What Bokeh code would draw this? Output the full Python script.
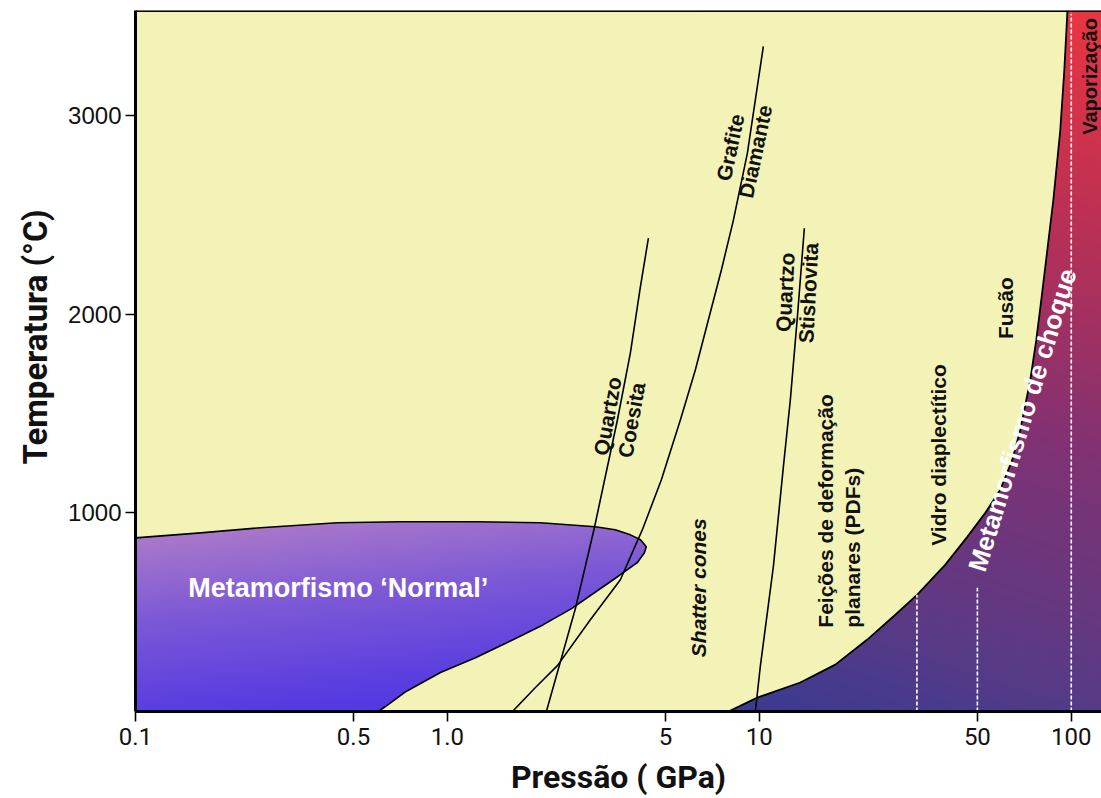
import numpy as np
from bokeh.plotting import figure
from bokeh.models import FixedTicker, Span, Range1d, Title
from bokeh.core.properties import value
from bokeh.embed import file_html
from bokeh.resources import INLINE

# ---------------- data ----------------
# Pressure (GPa) / Temperature (°C)
x_ticks = [0.1, 0.5, 1.0, 5, 10, 50, 100]
x_tick_labels = ["0.1", "0.5", "1.0", "5", "10", "50", "100"]
y_ticks = [1000, 2000, 3000]

normal_upper_p = [0.1, 0.1616, 0.2515, 0.444, 0.707, 1.23, 1.99, 2.98, 3.45, 3.86, 4.16, 4.34, 4.28, 4.06]
normal_upper_t = [874, 899, 925, 950, 955, 955, 950, 930, 915, 889, 864, 829, 799, 749]
normal_lower_p = [4.06, 3.40, 2.50, 2.03, 1.58, 1.23, 0.95, 0.737, 0.633, 0.60]
normal_lower_t = [749, 663, 518, 437, 352, 271, 196, 101, 25, 0]

shock_p = [7.96, 9.85, 13.53, 17.52, 22.19, 27.29, 32.09, 39.47, 46.42, 53.03, 59.22,
           64.70, 68.64, 73.89, 77.23, 80.13, 83.79, 87.58, 92.19, 94.98, 97.10]
shock_t = [0, 70, 146, 236, 362, 487, 588, 739, 879, 1000, 1116,
           1266, 1417, 1668, 1869, 2070, 2322, 2573, 2925, 3226, 3512]

qc_p = [2.076, 2.572, 2.959, 3.507, 3.859, 4.154, 4.409]          # quartzo / coesita
qc_t = [0, 518, 925, 1467, 1804, 2136, 2382]
gd_p = [1.616, 1.915, 2.252, 2.872, 3.585, 4.217, 4.852, 5.582, 6.234, 6.863, 7.553, 8.254, 9.152, 10.30]  # grafite / diamante
gd_t = [0, 121, 231, 462, 663, 915, 1166, 1467, 1719, 1970, 2221, 2472, 2809, 3347]
qs_p = [9.71, 10.07, 11.09, 11.94, 12.57, 13.24, 13.94]           # quartzo / stishovita
qs_t = [0, 226, 729, 1231, 1568, 1985, 2432]

dash_p = [32, 50, 100]
dash_t0 = [0, 0, 0]
dash_t1 = [588, 623, 3512]

P_MIN, P_MAX = 0.1, 125.0
T_MIN, T_MAX = 0, 3528

# ---------------- figure ----------------
FONT = "Liberation Sans"
TITLE_FONT = "Roboto"

p = figure(width=1101, height=798, x_axis_type="log",
           x_range=Range1d(P_MIN, P_MAX), y_range=Range1d(T_MIN, T_MAX),
           output_backend="svg", toolbar_location=None,
           min_border_left=135, min_border_right=0, min_border_top=10, min_border_bottom=86)
p.outline_line_color = None
p.grid.visible = False
p.background_fill_color = "#f3f3b8"
p.border_fill_color = "white"

# gradient background (styling only)
W, H = 483, 351
u = (np.arange(W) + 0.5) / W
v = (np.arange(H) + 0.5) / H
U, V = np.meshgrid(u, v)
SX = 135 + U * 966
SY = 712 - V * 702

def ramp(t, stops):
    pos = [s[0] for s in stops]
    return [np.interp(t, pos, [s[1][c] for s in stops]) for c in range(3)]

tn = 0.75 * (712 - SY) / 174 - 0.25 * (SX - 135) / 510
normal_stops = [(-0.3, (70, 48, 230)), (0.0, (90, 62, 224)), (0.4, (126, 90, 214)), (0.8, (178, 126, 200))]
rn, gn, bn = ramp(tn, normal_stops)

ts = 0.85 * (712 - SY) / 702 + 0.15 * (SX - 728) / 373
shock_stops = [(0.0, (58, 58, 146)), (0.2, (94, 58, 132)), (0.45, (128, 50, 116)), (0.72, (184, 48, 86)), (1.0, (236, 54, 64))]
rs, gs, bs = ramp(ts, shock_stops)

mask = SX < 700
R = np.where(mask, rn, rs)
G = np.where(mask, gn, gs)
B = np.where(mask, bn, bs)
img = np.empty((H, W), dtype=np.uint32)
view = img.view(dtype=np.uint8).reshape((H, W, 4))
view[:, :, 0] = np.clip(R, 0, 255).astype(np.uint8)
view[:, :, 1] = np.clip(G, 0, 255).astype(np.uint8)
view[:, :, 2] = np.clip(B, 0, 255).astype(np.uint8)
view[:, :, 3] = 255
p.image_rgba(image=[img], x=P_MIN, y=T_MIN, dw=P_MAX - P_MIN, dh=T_MAX - T_MIN)

# yellow field between the two regions
yx = [P_MIN, P_MIN, shock_p[-1]] + shock_p[::-1] + normal_lower_p[::-1] + normal_upper_p[::-1]
yy = [normal_upper_t[0], T_MAX, T_MAX] + shock_t[::-1] + normal_lower_t[::-1] + normal_upper_t[::-1]
p.patch(yx, yy, fill_color="#f3f3b8", line_color=None)

# boundaries
p.line(normal_upper_p + normal_lower_p[1:], normal_upper_t + normal_lower_t[1:],
       line_color="black", line_width=1.6, line_join="round")
p.line(shock_p + [shock_p[-1]], shock_t + [T_MAX], line_color="black", line_width=1.8, line_join="round")

# phase transition lines
for xs, ys in [(qc_p, qc_t), (gd_p, gd_t), (qs_p, qs_t)]:
    p.line(xs, ys, line_color="black", line_width=1.6, line_join="round")

# white dashed lines
p.segment(x0=dash_p, y0=dash_t0, x1=dash_p, y1=dash_t1, line_color="white", line_width=1.6, line_dash="4 2")

# top border
p.add_layout(Span(location=T_MAX, dimension="width", line_color="black", line_width=3))

def lab(x, y, txt, ang, size="21px", color="#111111", style="bold", align="center"):
    p.text(x=[x], y=[y], text=[txt], angle=np.deg2rad(ang), text_font=value(FONT),
           text_font_size=size, text_font_style=style, text_color=color,
           text_align=align, text_baseline="middle")

lab(3.26, 1487, "Quartzo", 80)
lab(3.89, 1467, "Coesita", 80)
lab(8.07, 2839, "Grafite", 78)
lab(9.71, 2819, "Diamante", 78)
lab(12.1, 2110, "Quartzo", 87)
lab(14.36, 2106, "Stishovita", 87)
lab(6.38, 623, "Shatter cones", 90, style="bold italic")
lab(16.3, 422, "Feições de deformação", 90, align="left")
lab(19.9, 422, "planares (PDFs)", 90, align="left")
lab(37.5, 1291, "Vidro diaplectítico", 90)
lab(61.4, 2030, "Fusão", 90)
lab(115.0, 3196, "Vaporização", 90, size="20px")
lab(69.7, 1467, "Metamorfismo de choque", 73, size="26px", color="white")
lab(0.447, 623, "Metamorfismo ‘Normal’", 0, size="27px", color="white")

# axes
xa = p.xaxis[0]
xa.ticker = FixedTicker(ticks=x_ticks, minor_ticks=[])
xa.major_label_overrides = {t: l for t, l in zip(x_ticks, x_tick_labels)}
xa.axis_label = "Pressão ( GPa)"
xa.major_label_text_font = TITLE_FONT
xa.major_label_text_font_size = "24px"
xa.major_label_standoff = 6

ya = p.yaxis[0]
ya.ticker = FixedTicker(ticks=y_ticks, minor_ticks=[])
ya.major_label_text_font = FONT
ya.major_label_text_font_size = "24px"
ya.major_label_standoff = 4
ya.major_label_orientation = "horizontal"

for ax in (xa, ya):
    ax.axis_line_width = 3
    ax.axis_line_color = "black"
    ax.major_tick_line_width = 1.6
    ax.major_tick_out = 10
    ax.major_tick_in = 0
    ax.minor_tick_out = 0
    ax.minor_tick_in = 0
    ax.major_label_text_color = "#111111"
    ax.axis_label_text_font = TITLE_FONT
    ax.axis_label_text_font_style = "bold"
    ax.axis_label_text_font_size = "32px"
    ax.axis_label_text_color = "#111111"
xa.axis_label_standoff = 10

# y-axis title as a side title, so it can sit a little above the frame centre
p.add_layout(Title(text="Temperatura (°C)", align="left", offset=247, standoff=20,
                   vertical_align="middle", text_font=TITLE_FONT, text_font_style="bold",
                   text_font_size="33px", text_color="#111111"), "left")

open("out.html", "w").write(file_html(p, INLINE))
